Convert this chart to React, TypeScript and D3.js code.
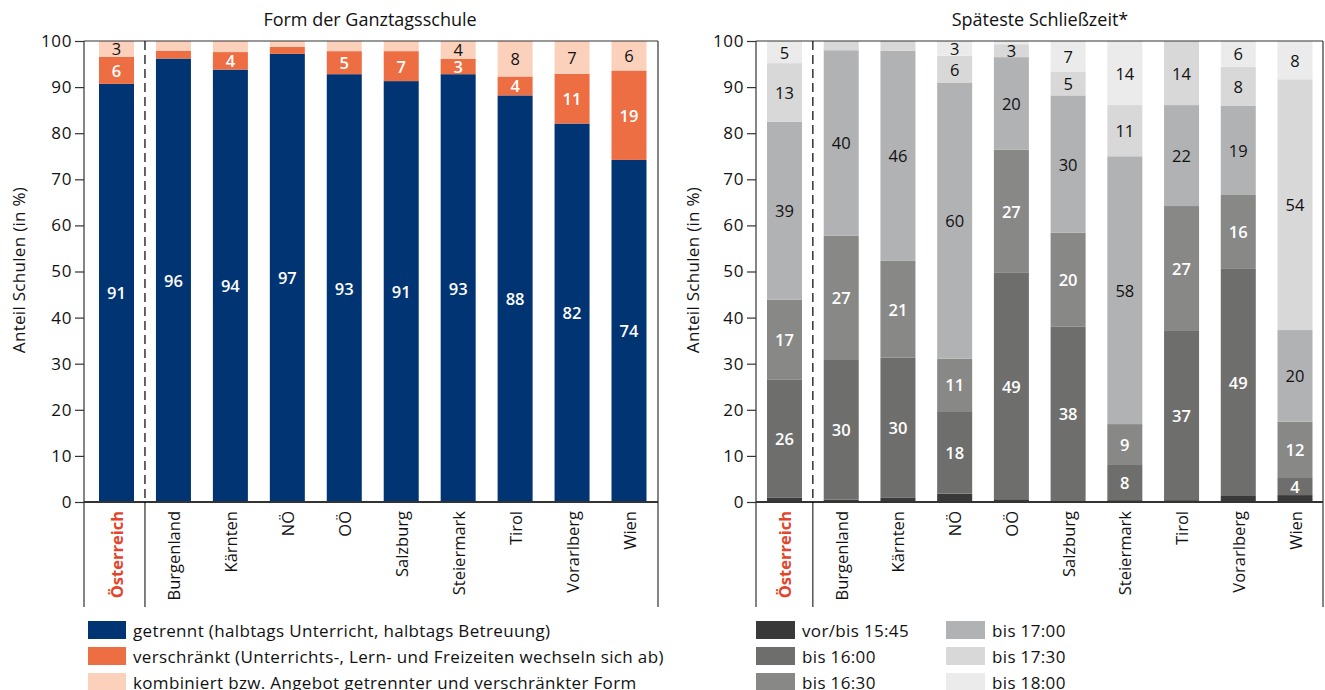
import React, { useEffect, useRef } from 'react';
import * as d3 from 'd3';

const regions = ['Österreich', 'Burgenland', 'Kärnten', 'NÖ', 'OÖ', 'Salzburg', 'Steiermark', 'Tirol', 'Vorarlberg', 'Wien'];
const yTicks = [0, 10, 20, 30, 40, 50, 60, 70, 80, 90, 100];

// Form der Ganztagsschule (in %)
const getrennt = [90.7, 96.2, 93.8, 97.2, 92.8, 91.3, 92.8, 88.2, 82.1, 74.2];
const verschraenkt = [5.9, 1.7, 3.8, 1.5, 5.0, 6.5, 3.3, 4.1, 10.8, 19.4];
const kombiniert = [3.4, 2.1, 2.4, 1.3, 2.2, 2.2, 3.9, 7.7, 7.1, 6.4];
const formLabels = [
  'getrennt (halbtags Unterricht, halbtags Betreuung)',
  'verschränkt (Unterrichts-, Lern- und Freizeiten wechseln sich ab)',
  'kombiniert bzw. Angebot getrennter und verschränkter Form',
];

// Späteste Schließzeit (in %)
const bis1545 = [0.9, 0.5, 0.9, 1.8, 0.6, 0.2, 0.4, 0.4, 1.3, 1.5];
const bis1600 = [25.7, 30.3, 30.4, 17.9, 49.1, 37.8, 7.8, 36.7, 49.4, 3.7];
const bis1630 = [17.3, 27.0, 21.0, 11.4, 26.7, 20.4, 8.7, 27.1, 15.9, 12.2];
const bis1700 = [38.6, 40.2, 45.6, 59.9, 20.1, 29.8, 58.1, 21.9, 19.4, 19.9];
const bis1730 = [12.7, 2.0, 2.1, 5.8, 2.8, 5.2, 11.1, 13.9, 8.4, 54.4];
const bis1800 = [4.8, 0, 0, 3.2, 0.7, 6.6, 13.9, 0, 5.6, 8.3];
const zeitLabels = ['vor/bis 15:45', 'bis 16:00', 'bis 16:30', 'bis 17:00', 'bis 17:30', 'bis 18:00'];

const FONT = '"Open Sans", Lato, sans-serif';
const AXIS = '#333';
const INK = '#111';

type Panel = {
  series: number[][];
  colors: string[];
  textColors: string[];
  title: string;
  titleX: number;
  axisX: number;
  rightX: number;
  centers: [number, number];
  yLabelX: number;
};

function drawPanel(svg: d3.Selection<SVGSVGElement, unknown, null, undefined>, p: Panel) {
  const y = d3.scaleLinear().domain([0, 100]).range([502, 41]);
  const x = d3.scalePoint<string>().domain(regions).range(p.centers);
  const barW = 35;
  const bottom = 607;
  const g = svg.append('g');

  // stacked bars + value labels
  regions.forEach((r, i) => {
    let acc = 0;
    p.series.forEach((s, k) => {
      const v = s[i];
      const y0 = acc;
      acc += v;
      if (v <= 0) return;
      g.append('rect')
        .attr('x', x(r)! - barW / 2)
        .attr('width', barW)
        .attr('y', y(acc))
        .attr('height', y(y0) - y(acc))
        .attr('fill', p.colors[k]);
      const lbl = Math.round(v);
      if (lbl >= 3) {
        const white = p.textColors[k] === '#fff';
        g.append('text')
          .attr('x', x(r)!)
          .attr('y', y(y0 + v / 2))
          .attr('text-anchor', 'middle')
          .attr('dominant-baseline', 'central')
          .attr('fill', p.textColors[k])
          .style('font-family', FONT)
          .style('font-size', '16.5px')
          .style('font-weight', white ? '600' : '400')
          .text(lbl);
      }
    });
  });

  // frame
  g.append('line').attr('x1', p.axisX).attr('x2', p.rightX).attr('y1', y(100)).attr('y2', y(100))
    .attr('stroke', AXIS).attr('stroke-width', 1.2);
  g.append('line').attr('x1', p.axisX).attr('x2', p.rightX).attr('y1', y(0)).attr('y2', y(0))
    .attr('stroke', AXIS).attr('stroke-width', 2);
  [p.axisX, p.rightX].forEach(xx => {
    g.append('line').attr('x1', xx).attr('x2', xx).attr('y1', y(100)).attr('y2', bottom)
      .attr('stroke', AXIS).attr('stroke-width', 1.2);
  });

  // separator after Österreich
  const sepX = (x(regions[0])! + x(regions[1])!) / 2;
  g.append('line').attr('x1', sepX).attr('x2', sepX).attr('y1', y(100)).attr('y2', y(0))
    .attr('stroke', '#000').attr('stroke-width', 1.2).attr('stroke-dasharray', '9,5');
  g.append('line').attr('x1', sepX).attr('x2', sepX).attr('y1', y(0)).attr('y2', bottom)
    .attr('stroke', '#000').attr('stroke-width', 1);

  // y axis
  const ax = g.append('g')
    .attr('transform', `translate(${p.axisX},0)`)
    .call(d3.axisLeft(y).tickValues(yTicks).tickSize(9).tickPadding(3));
  ax.select('.domain').remove();
  ax.selectAll('line').attr('stroke', AXIS).attr('stroke-width', 1.2);
  ax.selectAll('text').attr('fill', INK).style('font-family', FONT).style('font-size', '17px')
    .style('letter-spacing', '0.6px');

  g.append('text')
    .attr('transform', `translate(${p.yLabelX},270) rotate(-90)`)
    .attr('text-anchor', 'middle')
    .attr('dominant-baseline', 'central')
    .style('font-family', FONT)
    .style('font-size', '17px')
    .style('letter-spacing', '0.3px')
    .attr('fill', INK)
    .text('Anteil Schulen (in %)');

  // category labels
  regions.forEach((r, i) => {
    g.append('text')
      .attr('transform', `translate(${x(r)},511) rotate(-90)`)
      .attr('text-anchor', 'end')
      .attr('dominant-baseline', 'central')
      .style('font-family', FONT)
      .style('font-size', '16.5px')
      .style('font-weight', i === 0 ? '700' : '400')
      .attr('fill', i === 0 ? '#E5432A' : INK)
      .text(r);
  });

  g.append('text')
    .attr('x', p.titleX)
    .attr('y', 26)
    .attr('text-anchor', 'middle')
    .style('font-family', FONT)
    .style('font-size', '18px')
    .attr('fill', INK)
    .text(p.title);
}

const App: React.FC = () => {
  const svgRef = useRef<SVGSVGElement>(null);

  useEffect(() => {
    const svg = d3.select(svgRef.current!);
    svg.selectAll('*').remove();

    const formColors = ['#003473', '#EE6E44', '#FBD1BC'];
    const zeitColors = ['#393939', '#6E6E6C', '#888886', '#B1B2B4', '#D8D8D8', '#EBEBEB'];

    drawPanel(svg, {
      series: [getrennt, verschraenkt, kombiniert],
      colors: formColors,
      textColors: ['#fff', '#fff', INK],
      title: 'Form der Ganztagsschule',
      titleX: 370,
      axisX: 84,
      rightX: 658,
      centers: [116.5, 629],
      yLabelX: 18,
    });

    drawPanel(svg, {
      series: [bis1545, bis1600, bis1630, bis1700, bis1730, bis1800],
      colors: zeitColors,
      textColors: ['#fff', '#fff', '#fff', INK, INK, INK],
      title: 'Späteste Schließzeit*',
      titleX: 1040,
      axisX: 756,
      rightX: 1323,
      centers: [784.5, 1295],
      yLabelX: 692,
    });

    // legends
    const rowY = [630, 656, 682];
    const legend = svg.append('g');
    formLabels.forEach((t, i) => {
      legend.append('rect').attr('x', 88).attr('y', rowY[i] - 9).attr('width', 38).attr('height', 18)
        .attr('fill', formColors[i]);
      legend.append('text').attr('x', 133).attr('y', rowY[i]).attr('dominant-baseline', 'central')
        .style('font-family', FONT).style('font-size', '17px').style('letter-spacing', '0.35px')
        .attr('fill', INK).text(t);
    });
    zeitLabels.forEach((t, i) => {
      const col = Math.floor(i / 3);
      const sx = col === 0 ? 756 : 946;
      legend.append('rect').attr('x', sx).attr('y', rowY[i % 3] - 9).attr('width', 39).attr('height', 18)
        .attr('fill', zeitColors[i]);
      legend.append('text').attr('x', sx + 46).attr('y', rowY[i % 3]).attr('dominant-baseline', 'central')
        .style('font-family', FONT).style('font-size', '17px').style('letter-spacing', '0.35px')
        .attr('fill', INK).text(t);
    });
  }, []);

  return (
    <svg
      ref={svgRef}
      width={1325}
      height={690}
      style={{ position: 'absolute', left: 0, top: 0, background: '#fff' }}
    />
  );
};

export default App;
